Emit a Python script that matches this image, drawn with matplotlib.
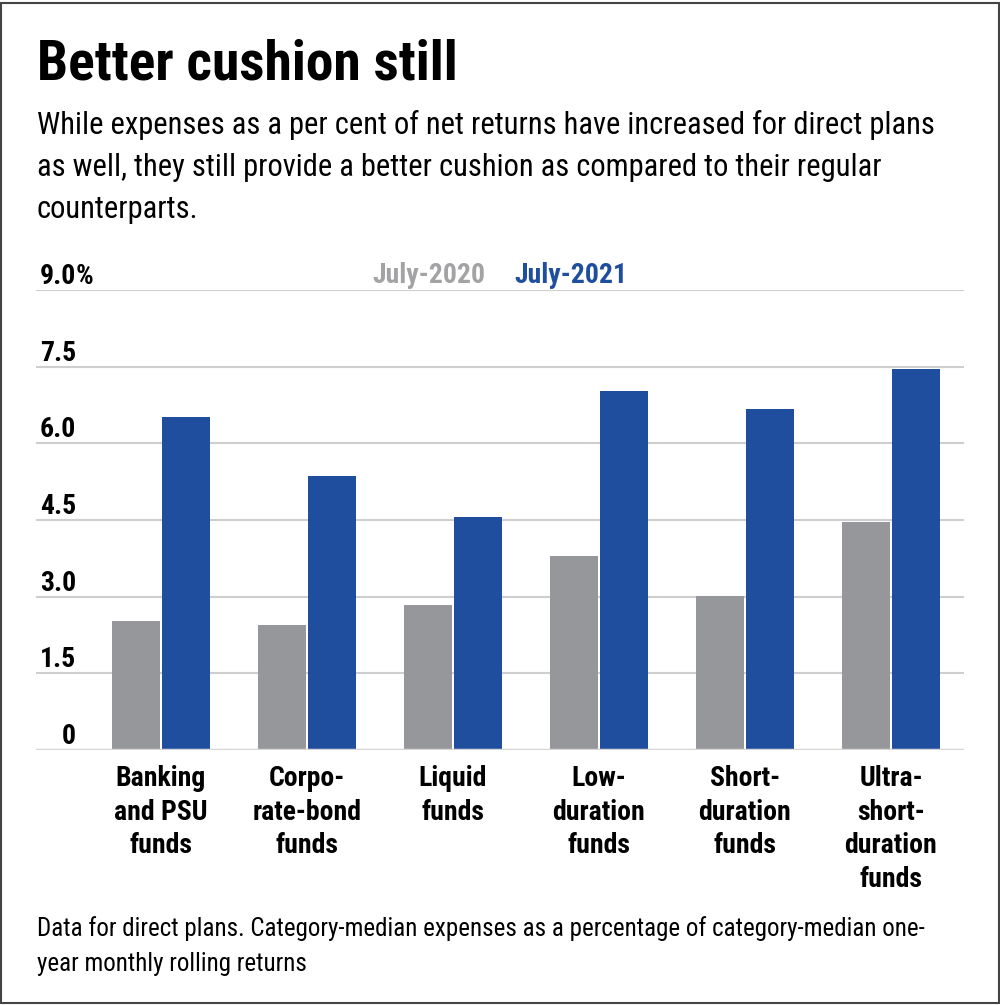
import matplotlib
matplotlib.use("Agg")
import matplotlib.pyplot as plt
import matplotlib.transforms as mtransforms
from matplotlib import font_manager
from matplotlib.patches import Rectangle
import numpy as np

categories = ["Banking\nand PSU\nfunds", "Corpo-\nrate-bond\nfunds", "Liquid\nfunds",
              "Low-\nduration\nfunds", "Short-\nduration\nfunds", "Ultra-\nshort-\nduration\nfunds"]
july_2020 = [2.53, 2.44, 2.83, 3.80, 3.01, 4.46]
july_2021 = [6.51, 5.36, 4.55, 7.03, 6.68, 7.45]
yticks = [0, 1.5, 3.0, 4.5, 6.0, 7.5, 9.0]
ytick_labels = ["0", "1.5", "3.0", "4.5", "6.0", "7.5", "9.0"]

GREY = "#96979a"
GREY_TXT = "#a3a3a5"
BLUE = "#1f4e9f"
GRID = "#cfcfcf"

# narrow font, falls back if missing
names = {f.name for f in font_manager.fontManager.ttflist}
cands = ["Roboto Condensed", "Liberation Sans Narrow", "Open Sans Condensed", "Liberation Sans"]
FONT = next((c for c in cands if c in names), "DejaVu Sans")
plt.rcParams["font.family"] = [FONT, "DejaVu Sans"]

fig = plt.figure(figsize=(10, 10.05), dpi=100)
W, H = 1000, 1005

def fx(px):
    return px / W

def fy(py):
    return 1 - py / H

ax = fig.add_axes([fx(36), fy(750), fx(964) - fx(36), fy(290) - fy(750)])
x = np.arange(len(categories))
ax.bar(x - 0.171, july_2020, width=0.329, color=GREY, zorder=3)
ax.bar(x + 0.171, july_2021, width=0.329, color=BLUE, zorder=3)
ax.set_xlim(-0.856, 5.5)
ax.set_ylim(0, 9)
for v in yticks[1:]:
    ax.axhline(v, color=GRID, lw=1.5, zorder=1)
ax.axhline(0, color="#d6d6d6", lw=2.5, zorder=4)
ax.set_xticks([])
ax.set_yticks([])
for s in ax.spines.values():
    s.set_visible(False)

# y labels sit above their gridlines
lab_tr = mtransforms.blended_transform_factory(fig.transFigure, ax.transData) + \
    mtransforms.ScaledTranslation(0, 0.06, fig.dpi_scale_trans)
for v, t in zip(yticks, ytick_labels):
    ax.text(fx(76), v, t, transform=lab_tr, ha="right", va="baseline",
            fontsize=20, fontweight="bold", color="black")
ax.text(fx(76), 9.0, "%", transform=lab_tr, ha="left", va="baseline",
        fontsize=20, fontweight="bold", color="black")

# legend as text
fig.text(fx(372), fy(283), "July-2020", ha="left", va="baseline",
         fontsize=20, fontweight="bold", color=GREY_TXT)
fig.text(fx(514), fy(283), "July-2021", ha="left", va="baseline",
         fontsize=20, fontweight="bold", color=BLUE)

# category labels
cat_tr = mtransforms.blended_transform_factory(ax.transData, fig.transFigure)
for xi, c in zip(x, categories):
    ax.text(xi, fy(765), c, transform=cat_tr, ha="center", va="top",
            fontsize=20, fontweight="bold", linespacing=1.31)

fig.text(fx(37), fy(80), "Better cushion still", ha="left", va="baseline",
         fontsize=40, fontweight="bold")
# multi-line text: baseline refers to the last line
fig.text(fx(37), fy(218),
         "While expenses as a per cent of net returns have increased for direct plans\n"
         "as well, they still provide a better cushion as compared to their regular\n"
         "counterparts.",
         ha="left", va="baseline", fontsize=22, linespacing=1.57)
fig.text(fx(37), fy(971),
         "Data for direct plans. Category-median expenses as a percentage of category-median one-\n"
         "year monthly rolling returns",
         ha="left", va="baseline", fontsize=18, linespacing=1.6)

fig.patches.append(Rectangle((0.001, 0.002), 0.998, 0.995, transform=fig.transFigure,
                             fill=False, edgecolor="#444444", lw=1.5))

fig.savefig("out.png", dpi=100)
